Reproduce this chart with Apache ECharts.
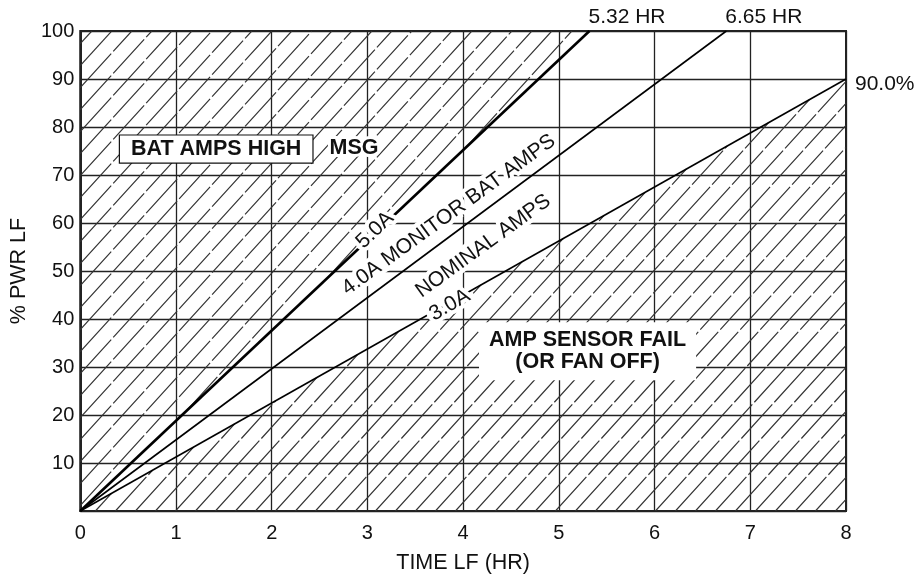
<!DOCTYPE html>
<html>
<head>
<meta charset="utf-8">
<script src="https://cdn.jsdelivr.net/npm/echarts@6/dist/echarts.min.js"></script>
<style>
html,body{margin:0;padding:0;background:#fff;}
#chart{width:921px;height:580px;}
</style>
</head>
<body>
<div id="chart"></div>
<script>
// ---- data ----
const X_MIN = 0, X_MAX = 8, Y_MIN = 0, Y_MAX = 100;
const xTickLabels = ['0','1','2','3','4','5','6','7','8'];
const yTickLabels = ['', '10','20','30','40','50','60','70','80','90','100'];
const line50A = [[0, 0], [5.32, 100]];   // 5.0A -> 5.32 HR
const line40A = [[0, 0], [6.75, 100]];   // 4.0A -> 6.65 HR
const line30A = [[0, 0], [8, 90]];       // 3.0A -> 90.0%
const annotationTexts = ['BAT AMPS HIGH', 'MSG', 'AMP SENSOR FAIL\n(OR FAN OFF)', '5.0A',
  '4.0A MONITOR BAT AMPS', 'NOMINAL AMPS', '3.0A', '5.32 HR', '6.65 HR', '90.0%'];
const annotationX = [1.42, 2.86, 5.30, 3.08, 3.85, 4.21, 3.86, 5.32, 6.75, 8];
const annotationY = [75.4, 75.6, 33.3, 58.5, 61.7, 55.2, 42.9, 100, 100, 90];

// ---- styling ----
const FONT = 'Liberation Sans, Arial, sans-serif';
const INK = '#111';
const HATCH_COLOR = '#333';
const HATCH_STEP = 20;
const HATCH_SLOPE = 40 / 44;

const labelStyles = {
  'BAT AMPS HIGH': { fontWeight: 'bold', fontSize: 21.5, backgroundColor: '#fff', borderColor: INK, borderWidth: 1.2, padding: [3, 11, 2, 11] },
  'MSG': { fontWeight: 'bold', fontSize: 21.5, textBorderColor: '#fff', textBorderWidth: 6 },
  'AMP SENSOR FAIL\n(OR FAN OFF)': { fontWeight: 'bold', fontSize: 21.5, backgroundColor: '#fff', padding: [7, 10, 7, 10], lineHeight: 22 },
  '5.0A': { rotate: 44, textBorderColor: '#fff', textBorderWidth: 8 },
  '4.0A MONITOR BAT AMPS': { rotate: 36, textBorderColor: '#fff', textBorderWidth: 8 },
  'NOMINAL AMPS': { rotate: 36, textBorderColor: '#fff', textBorderWidth: 8 },
  '3.0A': { rotate: 30, textBorderColor: '#fff', textBorderWidth: 8 },
  '5.32 HR': { align: 'left', offset: [-1, -14] },
  '6.65 HR': { align: 'left', offset: [-1, -14] },
  '90.0%': { align: 'left', offset: [9, 5] }
};

const annotationData = annotationTexts.map((t, i) => ({
  value: [annotationX[i], annotationY[i]],
  name: t,
  label: Object.assign({ show: true, position: 'inside', formatter: t, align: 'center', verticalAlign: 'middle', color: INK, opacity: 1 }, labelStyles[t])
}));

// hatch lines clipped to a convex region (pixel space)
function hatchSegments(poly, col) {
  const f = (p, c) => p[0] + HATCH_SLOPE * p[1] - c;
  const vals = poly.map(p => f(p, 0));
  const cmin = Math.min.apply(null, vals), cmax = Math.max.apply(null, vals);
  const segs = [];
  for (let c = Math.ceil(cmin / HATCH_STEP) * HATCH_STEP; c <= cmax; c += HATCH_STEP) {
    const hits = [];
    for (let i = 0; i < poly.length; i++) {
      const A = poly[i], B = poly[(i + 1) % poly.length];
      const fa = f(A, c), fb = f(B, c);
      if ((fa <= 0 && fb >= 0) || (fa >= 0 && fb <= 0)) {
        if (fa === fb) continue;
        const t = fa / (fa - fb);
        hits.push([A[0] + (B[0] - A[0]) * t, A[1] + (B[1] - A[1]) * t]);
      }
    }
    if (hits.length < 2) continue;
    hits.sort((a, b) => a[1] - b[1]);
    const p = hits[0], q = hits[hits.length - 1];
    if (Math.abs(q[1] - p[1]) < 0.5) continue;
    segs.push({ type: 'line', shape: { x1: q[0], y1: q[1], x2: p[0], y2: p[1] },
      style: { stroke: col, lineWidth: 1.2, lineDash: [46, 3] } });
  }
  return segs;
}
function regionSeries(linePts, corner, col) {
  return {
    type: 'custom', coordinateSystem: 'cartesian2d', clip: true, z: 1, silent: true,
    data: [[X_MIN, Y_MIN]],
    renderItem: (params, api) => {
      const pts = linePts.map(p => api.coord(p).slice());
      pts.push(api.coord(corner).slice());
      return { type: 'group', children: hatchSegments(pts, col) };
    }
  };
}

const chart = echarts.init(document.getElementById('chart'), null, { renderer: 'canvas' });
chart.setOption({
  animation: false,
  backgroundColor: '#fff',
  textStyle: { fontFamily: FONT, color: INK },
  grid: { left: 78, right: 75, top: 31, bottom: 69, show: true, borderColor: '#222', borderWidth: 2, containLabel: false },
  xAxis: {
    type: 'value', min: X_MIN, max: X_MAX, interval: 1,
    name: 'TIME LF (HR)', nameLocation: 'middle', nameGap: 41,
    nameTextStyle: { fontFamily: FONT, fontSize: 21.5, color: INK },
    axisLine: { show: true, lineStyle: { color: '#222', width: 2 } },
    axisTick: { show: false },
    axisLabel: { margin: 12, fontFamily: FONT, fontSize: 20, color: INK, formatter: (v) => xTickLabels[Math.round(v)] },
    splitLine: { show: true, lineStyle: { color: '#222', width: 1.3 } }
  },
  yAxis: {
    type: 'value', min: Y_MIN, max: Y_MAX, interval: 10,
    name: '% PWR LF', nameLocation: 'middle', nameGap: 50, nameRotate: 90,
    nameTextStyle: { fontFamily: FONT, fontSize: 21.5, color: INK },
    axisLine: { show: true, lineStyle: { color: '#222', width: 2 } },
    axisTick: { show: false },
    axisLabel: { margin: 6, fontFamily: FONT, fontSize: 20, color: INK, formatter: (v) => yTickLabels[Math.round(v / 10)] },
    splitLine: { show: true, lineStyle: { color: '#222', width: 1.3 } }
  },
  series: [
    regionSeries(line50A, [X_MIN, Y_MAX], HATCH_COLOR),
    regionSeries(line30A, [X_MAX, Y_MIN], HATCH_COLOR),
    { type: 'line', data: line50A.map(p => p.slice()), symbol: 'none', z: 2, lineStyle: { color: '#000', width: 2.6 } },
    { type: 'line', data: line40A.map(p => p.slice()), symbol: 'none', z: 2, lineStyle: { color: '#000', width: 1.6 } },
    { type: 'line', data: line30A.map(p => p.slice()), symbol: 'none', z: 2, lineStyle: { color: '#000', width: 1.6 } },
    { type: 'scatter', data: annotationData, symbolSize: 0, z: 10, silent: true,
      itemStyle: { opacity: 1 },
      label: { show: true, fontFamily: FONT, fontSize: 21, color: INK } }
  ]
});
</script>
</body>
</html>
